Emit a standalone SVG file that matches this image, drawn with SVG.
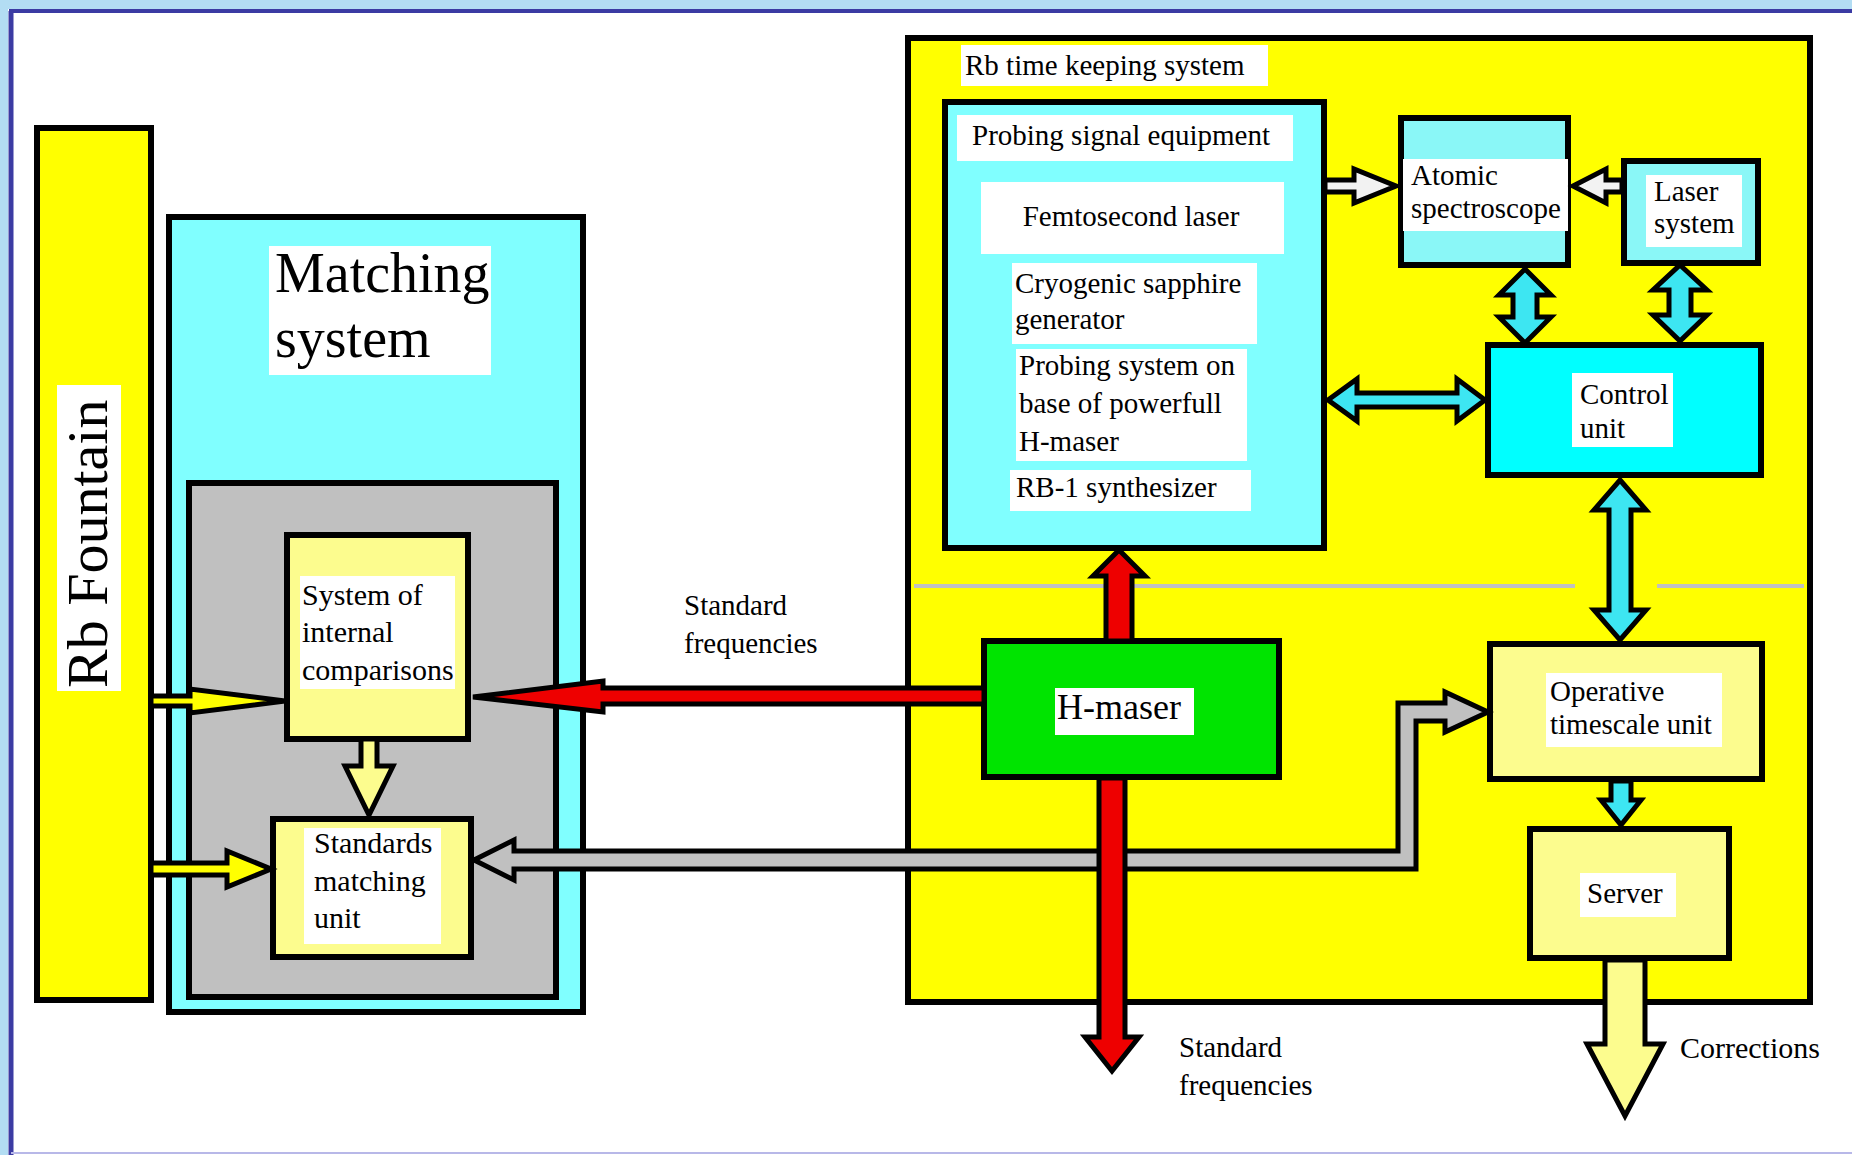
<svg xmlns="http://www.w3.org/2000/svg" width="1852" height="1155" viewBox="0 0 1852 1155">
<style>
.box{stroke:#000;stroke-width:6}
.lbl{fill:#fff}
.t{font-family:"Liberation Serif","Times New Roman",serif;font-size:29px;fill:#000}
.arr{stroke:#000;stroke-width:5;stroke-linejoin:miter}
</style>
<rect x="0" y="0" width="1852" height="1155" fill="#fff"/>
<rect x="0" y="0" width="1852" height="9" fill="#B3DDF3"/>
<rect x="0" y="0" width="8" height="1155" fill="#B3DDF3"/>
<line x1="9" y1="11" x2="1852" y2="11" stroke="#3B3BA3" stroke-width="4"/>
<line x1="11" y1="11" x2="11" y2="1155" stroke="#3B3BA3" stroke-width="5"/>
<line x1="11" y1="1153" x2="1852" y2="1153" stroke="#B8B8E8" stroke-width="2"/>

<g id="rb-fountain">
<rect class="box" x="37" y="128" width="114" height="872" fill="#FFFF00" stroke-width="7"/>
<rect class="lbl" x="57" y="385" width="64" height="306"/>
<text class="t" transform="translate(107,688) rotate(-90)" style="font-size:58px">Rb Fountain</text>
</g>

<g id="matching-system">
<rect class="box" x="169" y="217" width="414" height="795" fill="#80FFFF"/>
<rect class="lbl" x="269" y="246" width="222" height="129"/>
<text class="t" x="275" y="292" style="font-size:56px">Matching</text>
<text class="t" x="275" y="357" style="font-size:56px">system</text>
<rect class="box" x="189" y="483" width="367" height="514" fill="#C0C0C0"/>
</g>

<g id="internal-comparisons">
<rect class="box" x="287" y="535" width="181" height="204" fill="#FCFC8E"/>
<rect class="lbl" x="300" y="576" width="155" height="113"/>
<text class="t" x="302" y="605" style="font-size:30px">System of</text>
<text class="t" x="302" y="642" style="font-size:30px">internal</text>
<text class="t" x="302" y="680" style="font-size:30px">comparisons</text>
</g>

<g id="standards-matching">
<rect class="box" x="273" y="819" width="198" height="138" fill="#FCFC8E"/>
<rect class="lbl" x="304" y="828" width="137" height="116"/>
<text class="t" x="314" y="853" style="font-size:30px">Standards</text>
<text class="t" x="314" y="891" style="font-size:30px">matching</text>
<text class="t" x="314" y="928" style="font-size:30px">unit</text>
</g>

<g id="rb-time-keeping">
<rect class="box" x="908" y="38" width="902" height="964" fill="#FFFF00"/>
<line x1="914" y1="586" x2="1575" y2="586" stroke="#C0C0C0" stroke-width="4"/>
<line x1="1657" y1="586" x2="1804" y2="586" stroke="#C0C0C0" stroke-width="4"/>
<rect class="lbl" x="961" y="45" width="307" height="41"/>
<text class="t" x="965" y="75">Rb time keeping system</text>
</g>

<g id="probing-signal">
<rect class="box" x="945" y="102" width="379" height="446" fill="#80FFFF"/>
<rect class="lbl" x="957" y="115" width="336" height="46"/>
<text class="t" x="972" y="145">Probing signal equipment</text>
<rect class="lbl" x="981" y="182" width="303" height="72"/>
<text class="t" x="1131" y="226" text-anchor="middle">Femtosecond laser</text>
<rect class="lbl" x="1012" y="263" width="245" height="81"/>
<text class="t" x="1015" y="293">Cryogenic sapphire</text>
<text class="t" x="1015" y="329">generator</text>
<rect class="lbl" x="1016" y="349" width="231" height="112"/>
<text class="t" x="1019" y="375">Probing system on</text>
<text class="t" x="1019" y="413">base of powerfull</text>
<text class="t" x="1019" y="451">H-maser</text>
<rect class="lbl" x="1010" y="470" width="241" height="41"/>
<text class="t" x="1016" y="497">RB-1 synthesizer</text>
</g>

<g id="atomic-spectroscope">
<rect class="box" x="1401" y="118" width="167" height="147" fill="#8AF7F7"/>
<rect class="lbl" x="1403" y="159" width="165" height="72"/>
<text class="t" x="1411" y="185">Atomic</text>
<text class="t" x="1411" y="218">spectroscope</text>
</g>

<g id="laser-system">
<rect class="box" x="1624" y="161" width="134" height="102" fill="#8AF7F7"/>
<rect class="lbl" x="1646" y="175" width="96" height="72"/>
<text class="t" x="1654" y="201">Laser</text>
<text class="t" x="1654" y="233">system</text>
</g>

<g id="control-unit">
<rect class="box" x="1488" y="345" width="273" height="130" fill="#00FFFF"/>
<rect class="lbl" x="1572" y="373" width="101" height="74"/>
<text class="t" x="1580" y="404">Control</text>
<text class="t" x="1580" y="438">unit</text>
</g>

<g id="operative-timescale">
<rect class="box" x="1490" y="644" width="272" height="135" fill="#FCFC8E"/>
<rect class="lbl" x="1546" y="673" width="176" height="74"/>
<text class="t" x="1550" y="701">Operative</text>
<text class="t" x="1550" y="734">timescale unit</text>
</g>

<g id="server">
<rect class="box" x="1530" y="829" width="199" height="129" fill="#FCFC8E"/>
<rect class="lbl" x="1580" y="873" width="96" height="44"/>
<text class="t" x="1587" y="903">Server</text>
</g>

<g id="h-maser">
<rect class="box" x="984" y="641" width="295" height="136" fill="#00E400"/>
<rect class="lbl" x="1055" y="688" width="139" height="47"/>
<text class="t" x="1057" y="719" style="font-size:36px">H-maser</text>
</g>

<g id="connectors">
<!-- Rb Fountain -> System of internal comparisons -->
<polygon class="arr" fill="#FFFF00" stroke-width="4" points="151,696 190,696 190,689 285,701 190,713 190,706 151,706"/>
<!-- Rb Fountain -> Standards matching unit -->
<polygon class="arr" fill="#FFFF00" stroke-width="4" points="151,863 227,863 227,851 271,869 227,887 227,875 151,875"/>
<!-- internal comparisons -> standards matching -->
<polygon class="arr" fill="#FCFC8E" points="361,739 377,739 377,766 393,766 369,815 345,766 361,766"/>
<!-- gray double arrow Standards matching <-> Operative timescale -->
<polygon class="arr" fill="#C0C0C0" points="474,860 514,840 514,851 1398,851 1398,703 1445,703 1445,692 1488,712 1445,732 1445,721 1416,721 1416,869 514,869 514,880"/>
<!-- H-maser -> System of internal comparisons (red) -->
<polygon class="arr" fill="#EE0000" points="473,697 603,681 603,688 984,688 984,704 603,704 603,712"/>
<!-- H-maser -> Probing signal equipment -->
<polygon class="arr" fill="#EE0000" points="1119,550 1145,576 1132,576 1132,641 1106,641 1106,576 1093,576"/>
<!-- H-maser -> output standard frequencies -->
<polygon class="arr" fill="#EE0000" points="1099,778 1125,778 1125,1037 1139,1037 1112,1071 1085,1037 1099,1037"/>
<!-- Probing -> Atomic -->
<polygon class="arr" fill="#F2F2F2" points="1325,180 1354,180 1354,169 1396,186 1354,203 1354,192 1325,192"/>
<!-- Laser -> Atomic -->
<polygon class="arr" fill="#F2F2F2" points="1622,180 1606,180 1606,169 1573,186 1606,203 1606,192 1622,192"/>
<!-- Probing <-> Control -->
<polygon class="arr" fill="#3DE6F2" points="1328,400 1357,379 1357,393 1457,393 1457,379 1485,400 1457,421 1457,407 1357,407 1357,421"/>
<!-- Atomic <-> Control -->
<polygon class="arr" fill="#3DE6F2" points="1525,269 1551,295 1537,295 1537,317 1551,317 1525,343 1499,317 1513,317 1513,295 1499,295"/>
<!-- Laser <-> Control -->
<polygon class="arr" fill="#3DE6F2" points="1680,265 1707,290 1691,290 1691,315 1707,315 1680,341 1653,315 1669,315 1669,290 1653,290"/>
<!-- Control <-> Operative -->
<polygon class="arr" fill="#3DE6F2" points="1620,480 1646,510 1631,510 1631,610 1646,610 1620,640 1594,610 1609,610 1609,510 1594,510"/>
<!-- Operative -> Server -->
<polygon class="arr" fill="#3DE6F2" points="1611,781 1631,781 1631,800 1641,800 1621,825 1601,800 1611,800"/>
<!-- Server -> Corrections -->
<polygon class="arr" fill="#FCFC8E" points="1605,960 1645,960 1645,1044 1663,1044 1625,1116 1587,1044 1605,1044"/>
</g>

<g id="labels">
<text class="t" x="684" y="615">Standard</text>
<text class="t" x="684" y="653">frequencies</text>
<text class="t" x="1179" y="1057">Standard</text>
<text class="t" x="1179" y="1095">frequencies</text>
<text class="t" x="1680" y="1058" style="font-size:30px">Corrections</text>
</g>
</svg>
